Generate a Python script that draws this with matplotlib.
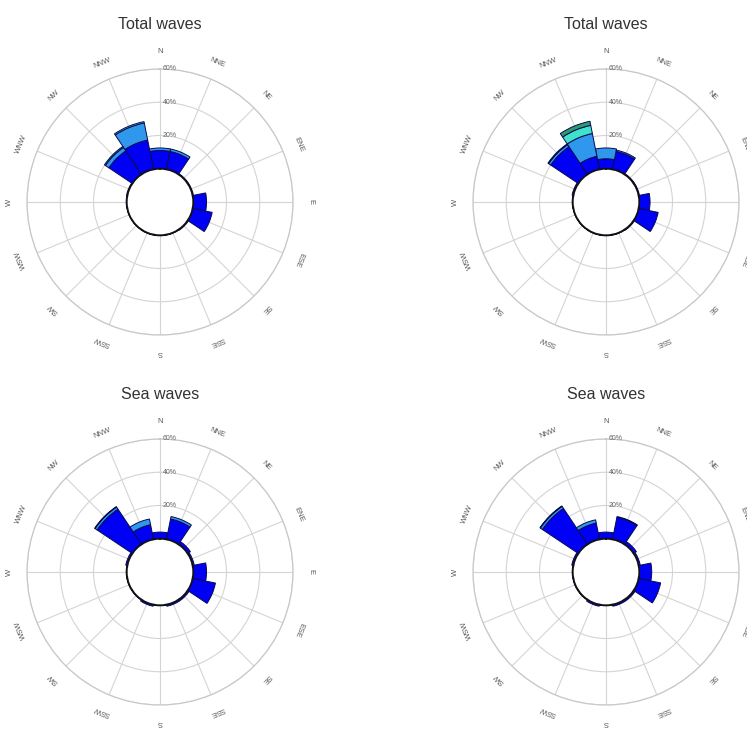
import matplotlib
matplotlib.use('Agg')
import matplotlib.pyplot as plt
import numpy as np

plt.rcParams['font.family'] = ['Liberation Sans', 'DejaVu Sans']

directions = ['N', 'NNE', 'NE', 'ENE', 'E', 'ESE', 'SE', 'SSE',
              'S', 'SSW', 'SW', 'WSW', 'W', 'WNW', 'NW', 'NNW']
ring_values = [20, 40, 60]
ring_labels = ['20%', '40%', '60%']
titles = ['Total waves', 'Total waves', 'Sea waves', 'Sea waves']
class_colors = ['#0000F5', '#2F98EC', '#3FE3CC', '#2B9A6E']

# percentages per direction (N ... NNW), stacked by class
tl_class1 = [11, 11, 0.5, 0.5, 8, 12, 0.5, 0.3, 0.3, 0.3, 0.2, 0.2, 0.3, 0.5, 17, 18]
tl_class2 = [1.5, 1.5, 0, 0, 0, 0, 0, 0, 0, 0, 0, 0, 0, 0, 2.5, 10.5]
tl_class3 = [0, 0, 0, 0, 0, 0, 0, 0, 0, 0, 0, 0, 0, 0, 0.7, 0.8]
tl_class4 = [0] * 16

tr_class1 = [6, 11, 0.5, 0.5, 6.5, 12, 0.5, 0.3, 0.3, 0.3, 0.2, 0.2, 0.3, 0.8, 20, 8]
tr_class2 = [6.5, 0.8, 0, 0, 0, 0, 0, 0, 0, 0, 0, 0, 0, 0, 1.5, 14]
tr_class3 = [0, 0, 0, 0, 0, 0, 0, 0, 0, 0, 0, 0, 0, 0, 0.5, 5]
tr_class4 = [0, 0, 0, 0, 0, 0, 0, 0, 0, 0, 0, 0, 0, 0, 0, 2.5]

bl_class1 = [4, 12.5, 2, 1, 8, 14, 1, 1, 0.3, 1, 0.3, 0.3, 0.3, 1, 25.5, 9]
bl_class2 = [0, 1.5, 0, 0, 0, 0, 0, 0, 0, 0, 0, 0, 0, 0, 1.5, 3.5]
bl_class3 = [0, 0, 0, 0, 0, 0, 0, 0, 0, 0, 0, 0, 0, 0, 0.3, 0]
bl_class4 = [0] * 16

br_class1 = [4, 13.5, 2, 1, 7.5, 13.5, 1, 1, 0.3, 1, 0.3, 0.3, 0.3, 1, 26, 10]
br_class2 = [0, 0.5, 0, 0, 0, 0, 0, 0, 0, 0, 0, 0, 0, 0, 1.5, 2]
br_class3 = [0, 0, 0, 0, 0, 0, 0, 0, 0, 0, 0, 0, 0, 0, 0.3, 0]
br_class4 = [0] * 16

panels = [
    (tl_class1, tl_class2, tl_class3, tl_class4),
    (tr_class1, tr_class2, tr_class3, tr_class4),
    (bl_class1, bl_class2, bl_class3, bl_class4),
    (br_class1, br_class2, br_class3, br_class4),
]

W, H = 747, 729
fig = plt.figure(figsize=(W / 100, H / 100), dpi=100)

centers_px = [(160, 202), (606, 202), (160, 572), (606, 572)]
R_px = 133

n = len(directions)
theta = np.deg2rad(np.arange(n) * 360.0 / n)
width = 2 * np.pi / n

for (cx, cy), title, classes in zip(centers_px, titles, panels):
    rect = [(cx - R_px) / W, 1 - (cy + R_px) / H, 2 * R_px / W, 2 * R_px / H]
    ax = fig.add_axes(rect, projection='polar')
    ax.set_theta_zero_location('N')
    ax.set_theta_direction(-1)
    ax.set_ylim(0, ring_values[-1])
    ax.set_rorigin(-20)

    bottom = np.zeros(n)
    for vals, col in zip(classes, class_colors):
        vals = np.asarray(vals, dtype=float)
        mask = vals > 0
        ax.bar(theta[mask], vals[mask], width=width, bottom=bottom[mask],
               color=col, edgecolor='#0a0a50', linewidth=0.7, zorder=3)
        bottom = bottom + vals

    ax.set_xticks(theta)
    ax.set_xticklabels([])
    ax.set_yticks(ring_values)
    ax.set_yticklabels([])
    ax.grid(True, color='#d4d4d4', linewidth=0.8)
    ax.spines['polar'].set_color('#c8c8c8')
    ax.spines['polar'].set_linewidth(0.9)
    ax.spines['inner'].set_color('#111111')
    ax.spines['inner'].set_linewidth(1.3)
    ax.spines['inner'].set_zorder(4)
    ax.tick_params(length=0)

    for rv, rl in zip(ring_values, ring_labels):
        ax.annotate(rl, xy=(0, rv), xytext=(2, 0), textcoords='offset points',
                    ha='left', va='center', fontsize=5, color='#666666', zorder=5)

    for th, lab in zip(theta, directions):
        deg = np.rad2deg(th)
        ax.text(th, ring_values[-1] + 10.5, lab, rotation=-deg, rotation_mode='anchor',
                ha='center', va='center', fontsize=5.5, color='#555555')

    ax.set_title(title, fontsize=11.5, color='#333333', pad=29)

fig.savefig('out.png', dpi=100, facecolor='white')
